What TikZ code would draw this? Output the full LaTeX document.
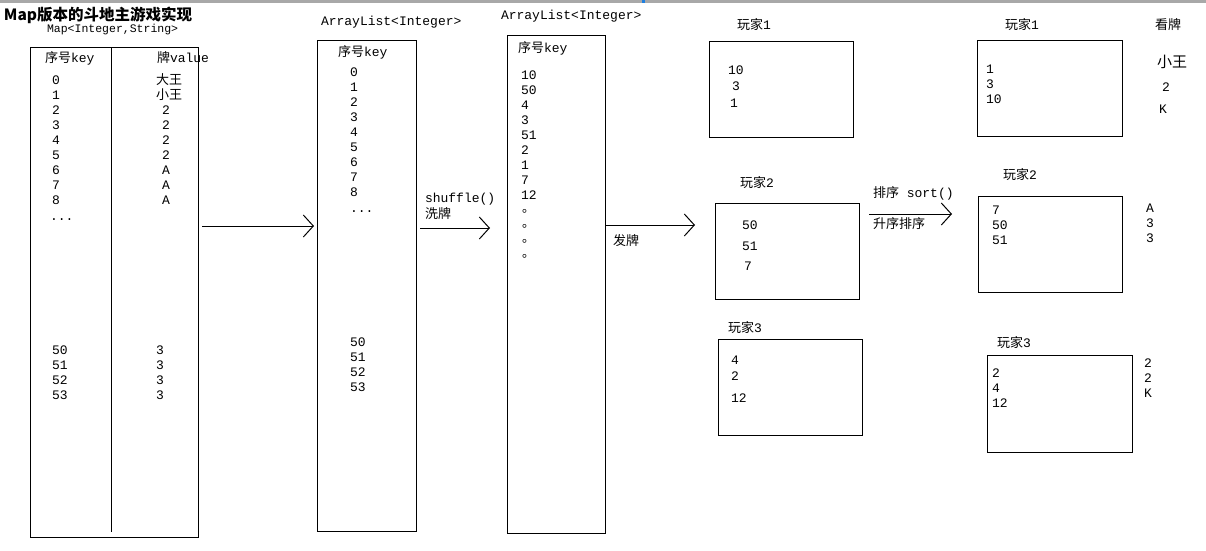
\documentclass[tikz,border=0pt]{standalone}
\usepackage{fontspec}
\setmonofont{Liberation Mono}
\newfontfamily\cjk{Noto Sans CJK SC}
\usetikzlibrary{arrows.meta}
\definecolor{barcol}{HTML}{A8A8A8}
\definecolor{markblue}{HTML}{1E7FE0}
\tikzset{
  every node/.style={inner sep=0pt, outer sep=0pt, font=\fontsize{13}{15}\selectfont\ttfamily},
  txt/.style={anchor=west},
  bas/.style={anchor=base west},
  lst/.style={anchor=north west, align=left, font=\fontsize{13}{15}\selectfont\ttfamily},
  boxline/.style={draw=black, line width=1pt},
  arr/.style={line width=1pt, -{Straight Barb[length=10pt,width=22pt,line width=1pt]}},
  small/.style={font=\fontsize{11.5}{13}\selectfont\ttfamily},
}
\newcommand{\ck}[1]{{\cjk #1}}
\begin{document}
\begin{tikzpicture}[x=1pt,y=-1pt]
\useasboundingbox (0,0) rectangle (1206,550);
\fill[white] (0,0) rectangle (1206,550);
\fill[barcol] (0,0) rectangle (1206,3);
\fill[markblue] (642,0) rectangle (645,3);

% title
\node[txt, font=\fontsize{15.5}{17}\selectfont\bfseries] (title) at (4,15) {\ck{\textbf{Map版本的斗地主游戏实现}}};
\node[txt, small] (maptype) at (47,30) {Map<Integer,String>};

% table 1
\node[boxline, minimum width=168pt, minimum height=490pt, anchor=north west] (t1) at (30,47) {};
\draw[line width=1pt] (111,47) -- (111,532);
\node[txt] (h1) at (45,58) {\ck{序号}key};
\node[txt] (h2) at (157,58) {\ck{牌}value};
\node[lst] (k1) at (52,76) {0\\1\\2\\3\\4\\5\\6\\7\\8};
\node[bas] (k1d) at (50,220) {...};
\node[txt] (v0) at (156,80) {\ck{大王}};
\node[txt] (v1) at (156,95) {\ck{小王}};
\node[lst] (v2) at (162,106) {2\\2\\2\\2\\A\\A\\A};
\node[lst] (k2) at (52,346) {50\\51\\52\\53};
\node[lst] (v3) at (156,346) {3\\3\\3\\3};

% list 2
\node[txt] (al1) at (321,22) {ArrayList<Integer>};
\node[boxline, minimum width=99pt, minimum height=491pt, anchor=north west] (b2) at (317,40) {};
\node[txt] (h3) at (338,52) {\ck{序号}key};
\node[lst] (k3) at (350,68) {0\\1\\2\\3\\4\\5\\6\\7\\8};
\node[bas] (k3d) at (350,212) {...};
\node[lst] (k4) at (350,338) {50\\51\\52\\53};

% list 3
\node[txt] (al2) at (501,16) {ArrayList<Integer>};
\node[boxline, minimum width=98pt, minimum height=498pt, anchor=north west] (b3) at (507,35) {};
\node[txt] (h4) at (518,48) {\ck{序号}key};
\node[lst] (k5) at (521,71) {10\\50\\4\\3\\51\\2\\1\\7\\12};
\node[lst, font=\fontsize{12.5}{15}\selectfont\cjk] (dots) at (522,209) {。\\。\\。\\。};

% arrows between lists
\coordinate (a1s) at (202,226);
\coordinate (a1e) at (314,226);
\draw[arr] (a1s) -- (a1e);
\coordinate (a2s) at (420,228);
\coordinate (a2e) at (490,228);
\draw[arr] (a2s) -- (a2e);
\node[txt] (shuf) at (425,199) {shuffle()};
\node[txt] (xipai) at (425,214) {\ck{洗牌}};
\coordinate (a3e) at (695,225);
\draw[arr] (b3.east |- a3e) -- (a3e);
\node[txt] (fapai) at (613,241) {\ck{发牌}};

% players before sort
\node[txt] (p1l) at (737,25) {\ck{玩家}1};
\node[boxline, minimum width=144pt, minimum height=96pt, anchor=north west] (p1) at (709,41) {};
\node[txt] (p1a) at (728,70) {10};
\node[txt] (p1b) at (732,86) {3};
\node[txt] (p1c) at (730,103) {1};

\node[txt] (p2l) at (740,183) {\ck{玩家}2};
\node[boxline, minimum width=144pt, minimum height=96pt, anchor=north west] (p2) at (715,203) {};
\node[txt] (p2a) at (742,225) {50};
\node[txt] (p2b) at (742,246) {51};
\node[txt] (p2c) at (744,266) {7};

\node[txt] (p3l) at (728,328) {\ck{玩家}3};
\node[boxline, minimum width=144pt, minimum height=96pt, anchor=north west] (p3) at (718,339) {};
\node[txt] (p3a) at (731,360) {4};
\node[txt] (p3b) at (731,376) {2};
\node[txt] (p3c) at (731,398) {12};

% sort arrow
\coordinate (sa) at (869,214);
\coordinate (sb) at (952,214);
\draw[arr] (sa) -- (sb);
\node[txt] (sortl) at (873,193) {\ck{排序} sort()};
\node[txt] (sortm) at (873,224) {\ck{升序排序}};

% players after sort
\node[txt] (q1l) at (1005,25) {\ck{玩家}1};
\node[boxline, minimum width=145pt, minimum height=96pt, anchor=north west] (q1) at (977,40) {};
\node[lst] (q1n) at (986,65) {1\\3\\10};

\node[txt] (q2l) at (1003,175) {\ck{玩家}2};
\node[boxline, minimum width=144pt, minimum height=96pt, anchor=north west] (q2) at (978,196) {};
\node[lst] (q2n) at (992,206) {7\\50\\51};

\node[txt] (q3l) at (997,343) {\ck{玩家}3};
\node[boxline, minimum width=145pt, minimum height=97pt, anchor=north west] (q3) at (987,355) {};
\node[lst] (q3n) at (992,369) {2\\4\\12};

% look at cards
\node[txt] (kan) at (1155,25) {\ck{看牌}};
\node[txt, font=\fontsize{15}{17}\selectfont\cjk] (xw) at (1157,62) {小王};
\node[txt] (c1) at (1162,87) {2};
\node[txt] (c2) at (1159,109) {K};
\node[lst] (c3) at (1146,204) {A\\3\\3};
\node[lst] (c4) at (1144,359) {2\\2\\K};
\end{tikzpicture}
\end{document}
